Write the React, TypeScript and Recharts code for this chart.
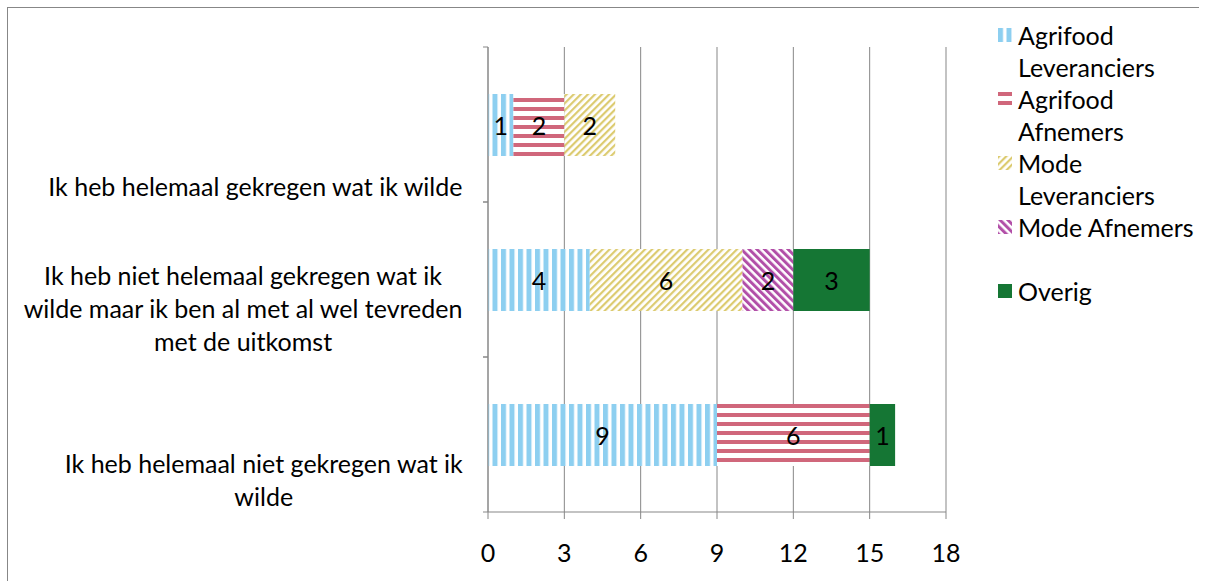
import {
  Bar,
  BarChart,
  CartesianGrid,
  LabelList,
  Legend,
  XAxis,
  YAxis,
} from "recharts";

const categories = [
  "Ik heb helemaal gekregen wat ik wilde",
  "Ik heb niet helemaal gekregen wat ik wilde maar ik ben al met al wel tevreden met de uitkomst",
  "Ik heb helemaal niet gekregen wat ik wilde",
];
const agrifoodLeveranciers = [1, 4, 9];
const agrifoodAfnemers = [2, 0, 6];
const modeLeveranciers = [2, 6, 0];
const modeAfnemers = [0, 2, 0];
const overig = [0, 3, 1];
const xTicks = [0, 3, 6, 9, 12, 15, 18];

const series = [
  { key: "al", name: "Agrifood Leveranciers", fill: "url(#pAL)" },
  { key: "aa", name: "Agrifood Afnemers", fill: "url(#pAA)" },
  { key: "ml", name: "Mode Leveranciers", fill: "url(#pML)" },
  { key: "ma", name: "Mode Afnemers", fill: "url(#pMA)" },
  { key: "ov", name: "Overig", fill: "#157634" },
];

const data = categories.map((category, i) => ({
  category,
  al: agrifoodLeveranciers[i],
  aa: agrifoodAfnemers[i],
  ml: modeLeveranciers[i],
  ma: modeAfnemers[i],
  ov: overig[i],
}));

const GRAY = "#878787";
const FONT_SIZE = 25;
const FONT = `${FONT_SIZE}px Lato`;
const CHART_W = 1196;
const CHART_H = 570;
const TOP = 39;
const AXIS_X = 480;
const X_AXIS_H = 66;
const BAND = (CHART_H - TOP - X_AXIS_H) / categories.length;
const LABEL_RIGHT = AXIS_X - 25;
const LINE = 33;
const WRAP = 448;

let ctx: CanvasRenderingContext2D | null = null;
function measure(t: string) {
  if (!ctx) ctx = document.createElement("canvas").getContext("2d");
  ctx!.font = FONT;
  return ctx!.measureText(t).width;
}

function wrap(text: string, max: number) {
  const lines: string[] = [];
  let cur = "";
  for (const w of text.split(" ")) {
    const next = cur ? cur + " " + w : w;
    if (cur && measure(next) > max) {
      lines.push(cur);
      cur = w;
    } else {
      cur = next;
    }
  }
  if (cur) lines.push(cur);
  return lines;
}

// category label, bottom aligned in its band, lines centred in the block
const CategoryTick = (props: any) => {
  const { y, payload } = props;
  const lines = wrap(String(payload.value), WRAP);
  const block = Math.max(...lines.map(measure));
  const cx = LABEL_RIGHT - block / 2;
  const last = y + BAND / 2 - 16;
  return (
    <g>
      <line x1={AXIS_X - 5} x2={AXIS_X} y1={y - BAND / 2} y2={y - BAND / 2} stroke={GRAY} />
      <line x1={AXIS_X - 5} x2={AXIS_X} y1={y + BAND / 2} y2={y + BAND / 2} stroke={GRAY} />
      {lines.map((l, i) => (
        <text
          key={i}
          x={cx}
          y={last - (lines.length - 1 - i) * LINE}
          textAnchor="middle"
          dominantBaseline="central"
          fontSize={FONT_SIZE}
          fill="#000"
        >
          {l}
        </text>
      ))}
    </g>
  );
};

const ValueTick = (props: any) => {
  const { x, y, payload } = props;
  return (
    <text x={x} y={y + 33} textAnchor="middle" dominantBaseline="central" fontSize={FONT_SIZE} fill="#000">
      {payload.value}
    </text>
  );
};

const renderValue = (props: any) => {
  const vb = props.viewBox ?? props;
  const { x, y, width, height } = vb;
  if (!props.value) return null;
  return (
    <text
      x={x + width / 2}
      y={y + height / 2}
      textAnchor="middle"
      dominantBaseline="central"
      fontSize={FONT_SIZE}
      fill="#000"
    >
      {props.value}
    </text>
  );
};

const renderLegend = () => (
  <div style={{ width: 205 }}>
    {series.map((s) => (
      <div
        key={s.key}
        style={{ display: "flex", alignItems: "flex-start", height: 64, fontSize: FONT_SIZE, lineHeight: "32px", color: "#000" }}
      >
        <svg width={14} height={14} style={{ marginTop: 9, marginRight: 6, flex: "none" }}>
          <rect width={14} height={14} fill={s.fill} />
        </svg>
        <span style={{ width: 185 }}>{s.name}</span>
      </div>
    ))}
  </div>
);

export default function App() {
  return (
    <div
      style={{
        position: "relative",
        width: 1199,
        height: 590,
        boxSizing: "border-box",
        border: "1px solid #878787",
        fontFamily: "Lato",
      }}
    >
      <style>{"html,body{overflow:hidden} body{margin:7px}"}</style>
      <BarChart
        width={CHART_W}
        height={CHART_H}
        data={data}
        layout="vertical"
        margin={{ top: TOP, right: CHART_W - 938, left: 0, bottom: 0 }}
        barSize={62}
      >
        <defs>
          <pattern id="pAL" width={8.5} height={10} patternUnits="userSpaceOnUse">
            <rect width={8.5} height={10} fill="#fff" />
            <rect width={5} height={10} fill="#8dcff0" />
          </pattern>
          <pattern id="pAA" width={10} height={9} patternUnits="userSpaceOnUse">
            <rect width={10} height={9} fill="#fff" />
            <rect width={10} height={4} fill="#d0677b" />
          </pattern>
          <pattern id="pML" width={5} height={10} patternUnits="userSpaceOnUse" patternTransform="rotate(45)">
            <rect width={5} height={10} fill="#fff" />
            <rect width={2.2} height={10} fill="#dccb70" />
          </pattern>
          <pattern id="pMA" width={5.5} height={10} patternUnits="userSpaceOnUse" patternTransform="rotate(-45)">
            <rect width={5.5} height={10} fill="#fff" />
            <rect width={3} height={10} fill="#b24fa8" />
          </pattern>
        </defs>
        <CartesianGrid horizontal={false} stroke={GRAY} />
        <XAxis
          type="number"
          domain={[0, 18]}
          ticks={xTicks}
          interval={0}
          height={X_AXIS_H}
          tickSize={7}
          tickMargin={0}
          axisLine={{ stroke: GRAY }}
          tickLine={{ stroke: GRAY }}
          tick={<ValueTick />}
        />
        <YAxis
          type="category"
          dataKey="category"
          width={AXIS_X}
          interval={0}
          tickLine={false}
          axisLine={{ stroke: GRAY }}
          tick={<CategoryTick />}
        />
        <Legend
          content={renderLegend}
          layout="vertical"
          align="center"
          verticalAlign="middle"
          wrapperStyle={{ left: 990, top: 11, width: 205 }}
        />
        {series.map((s) => (
          <Bar key={s.key} dataKey={s.key} name={s.name} stackId="a" fill={s.fill} isAnimationActive={false}>
            <LabelList dataKey={s.key} content={renderValue} />
          </Bar>
        ))}
      </BarChart>
    </div>
  );
}
